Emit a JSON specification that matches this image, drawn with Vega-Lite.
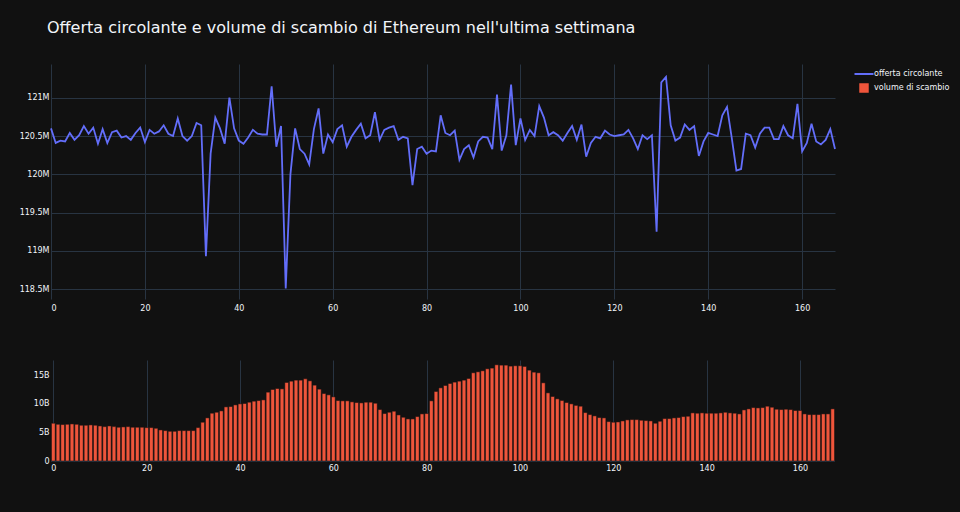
{
  "$schema": "https://vega.github.io/schema/vega-lite/v6.json",
  "background": "#111111",
  "padding": {"left": 19, "top": 20, "right": 5, "bottom": 45},
  "bounds": "flush",
  "title": {"text": "Offerta circolante e volume di scambio di Ethereum nell'ultima settimana", "anchor": "start", "frame": "group", "fontSize": 16, "font": "DejaVu Sans", "fontWeight": "normal", "color": "#f2f5fa", "offset": 28, "dx": -4},
  "data": {"values": [
{"ora":0,"offerta":120600000,"volume":6.62},{"ora":1,"offerta":120410000,"volume":6.44},{"ora":2,"offerta":120440000,"volume":6.39},{"ora":3,"offerta":120430000,"volume":6.44},{"ora":4,"offerta":120540000,"volume":6.50},{"ora":5,"offerta":120450000,"volume":6.44},{"ora":6,"offerta":120510000,"volume":6.27},{"ora":7,"offerta":120630000,"volume":6.27},{"ora":8,"offerta":120530000,"volume":6.33},{"ora":9,"offerta":120610000,"volume":6.27},
{"ora":10,"offerta":120400000,"volume":6.15},{"ora":11,"offerta":120590000,"volume":6.03},{"ora":12,"offerta":120410000,"volume":6.15},{"ora":13,"offerta":120550000,"volume":6.03},{"ora":14,"offerta":120570000,"volume":5.92},{"ora":15,"offerta":120480000,"volume":5.98},{"ora":16,"offerta":120500000,"volume":6.03},{"ora":17,"offerta":120450000,"volume":5.92},{"ora":18,"offerta":120540000,"volume":5.92},{"ora":19,"offerta":120610000,"volume":5.92},
{"ora":20,"offerta":120420000,"volume":5.86},{"ora":21,"offerta":120580000,"volume":5.86},{"ora":22,"offerta":120530000,"volume":5.74},{"ora":23,"offerta":120560000,"volume":5.45},{"ora":24,"offerta":120640000,"volume":5.33},{"ora":25,"offerta":120530000,"volume":5.21},{"ora":26,"offerta":120500000,"volume":5.21},{"ora":27,"offerta":120730000,"volume":5.33},{"ora":28,"offerta":120500000,"volume":5.33},{"ora":29,"offerta":120440000,"volume":5.33},
{"ora":30,"offerta":120500000,"volume":5.33},{"ora":31,"offerta":120670000,"volume":5.86},{"ora":32,"offerta":120640000,"volume":6.80},{"ora":33,"offerta":118930000,"volume":7.56},{"ora":34,"offerta":120270000,"volume":8.38},{"ora":35,"offerta":120740000,"volume":8.55},{"ora":36,"offerta":120600000,"volume":8.79},{"ora":37,"offerta":120400000,"volume":9.49},{"ora":38,"offerta":121000000,"volume":9.55},{"ora":39,"offerta":120600000,"volume":9.84},
{"ora":40,"offerta":120440000,"volume":10.02},{"ora":41,"offerta":120400000,"volume":10.08},{"ora":42,"offerta":120480000,"volume":10.31},{"ora":43,"offerta":120580000,"volume":10.49},{"ora":44,"offerta":120530000,"volume":10.60},{"ora":45,"offerta":120520000,"volume":10.72},{"ora":46,"offerta":120520000,"volume":12.07},{"ora":47,"offerta":121150000,"volume":12.54},{"ora":48,"offerta":120360000,"volume":12.71},{"ora":49,"offerta":120630000,"volume":12.65},
{"ora":50,"offerta":118510000,"volume":13.77},{"ora":51,"offerta":120000000,"volume":14.00},{"ora":52,"offerta":120600000,"volume":14.18},{"ora":53,"offerta":120330000,"volume":14.18},{"ora":54,"offerta":120270000,"volume":14.41},{"ora":55,"offerta":120130000,"volume":14.06},{"ora":56,"offerta":120590000,"volume":13.30},{"ora":57,"offerta":120860000,"volume":12.60},{"ora":58,"offerta":120270000,"volume":11.83},{"ora":59,"offerta":120520000,"volume":11.60},
{"ora":60,"offerta":120420000,"volume":11.25},{"ora":61,"offerta":120590000,"volume":10.60},{"ora":62,"offerta":120640000,"volume":10.55},{"ora":63,"offerta":120360000,"volume":10.55},{"ora":64,"offerta":120490000,"volume":10.37},{"ora":65,"offerta":120580000,"volume":10.25},{"ora":66,"offerta":120660000,"volume":10.19},{"ora":67,"offerta":120470000,"volume":10.31},{"ora":68,"offerta":120510000,"volume":10.31},{"ora":69,"offerta":120810000,"volume":10.13},
{"ora":70,"offerta":120450000,"volume":9.02},{"ora":71,"offerta":120580000,"volume":8.32},{"ora":72,"offerta":120610000,"volume":8.55},{"ora":73,"offerta":120630000,"volume":8.73},{"ora":74,"offerta":120450000,"volume":8.08},{"ora":75,"offerta":120490000,"volume":7.67},{"ora":76,"offerta":120470000,"volume":7.38},{"ora":77,"offerta":119860000,"volume":7.38},{"ora":78,"offerta":120330000,"volume":7.79},{"ora":79,"offerta":120360000,"volume":8.26},
{"ora":80,"offerta":120270000,"volume":8.32},{"ora":81,"offerta":120310000,"volume":10.55},{"ora":82,"offerta":120300000,"volume":12.19},{"ora":83,"offerta":120770000,"volume":12.83},{"ora":84,"offerta":120540000,"volume":13.24},{"ora":85,"offerta":120510000,"volume":13.59},{"ora":86,"offerta":120570000,"volume":13.83},{"ora":87,"offerta":120190000,"volume":14.00},{"ora":88,"offerta":120330000,"volume":14.18},{"ora":89,"offerta":120380000,"volume":14.47},
{"ora":90,"offerta":120220000,"volume":15.47},{"ora":91,"offerta":120430000,"volume":15.64},{"ora":92,"offerta":120490000,"volume":15.82},{"ora":93,"offerta":120480000,"volume":16.17},{"ora":94,"offerta":120330000,"volume":16.29},{"ora":95,"offerta":121040000,"volume":16.87},{"ora":96,"offerta":120310000,"volume":16.81},{"ora":97,"offerta":120510000,"volume":16.81},{"ora":98,"offerta":121170000,"volume":16.64},{"ora":99,"offerta":120380000,"volume":16.70},
{"ora":100,"offerta":120730000,"volume":16.70},{"ora":101,"offerta":120450000,"volume":16.58},{"ora":102,"offerta":120580000,"volume":15.93},{"ora":103,"offerta":120500000,"volume":15.58},{"ora":104,"offerta":120890000,"volume":15.47},{"ora":105,"offerta":120740000,"volume":13.71},{"ora":106,"offerta":120510000,"volume":11.95},{"ora":107,"offerta":120550000,"volume":11.31},{"ora":108,"offerta":120510000,"volume":10.90},{"ora":109,"offerta":120440000,"volume":10.60},
{"ora":110,"offerta":120540000,"volume":10.25},{"ora":111,"offerta":120630000,"volume":10.02},{"ora":112,"offerta":120450000,"volume":9.75},{"ora":113,"offerta":120650000,"volume":9.61},{"ora":114,"offerta":120230000,"volume":8.49},{"ora":115,"offerta":120410000,"volume":8.14},{"ora":116,"offerta":120490000,"volume":7.91},{"ora":117,"offerta":120470000,"volume":7.62},{"ora":118,"offerta":120570000,"volume":7.56},{"ora":119,"offerta":120520000,"volume":6.91},
{"ora":120,"offerta":120500000,"volume":6.80},{"ora":121,"offerta":120510000,"volume":6.85},{"ora":122,"offerta":120520000,"volume":7.03},{"ora":123,"offerta":120580000,"volume":7.21},{"ora":124,"offerta":120470000,"volume":7.26},{"ora":125,"offerta":120330000,"volume":7.26},{"ora":126,"offerta":120510000,"volume":7.15},{"ora":127,"offerta":120460000,"volume":7.09},{"ora":128,"offerta":120510000,"volume":7.03},{"ora":129,"offerta":119250000,"volume":6.62},
{"ora":130,"offerta":121200000,"volume":6.97},{"ora":131,"offerta":121270000,"volume":7.44},{"ora":132,"offerta":120640000,"volume":7.44},{"ora":133,"offerta":120440000,"volume":7.56},{"ora":134,"offerta":120480000,"volume":7.62},{"ora":135,"offerta":120650000,"volume":7.79},{"ora":136,"offerta":120580000,"volume":7.85},{"ora":137,"offerta":120630000,"volume":8.44},{"ora":138,"offerta":120240000,"volume":8.38},{"ora":139,"offerta":120430000,"volume":8.44},
{"ora":140,"offerta":120540000,"volume":8.38},{"ora":141,"offerta":120520000,"volume":8.38},{"ora":142,"offerta":120500000,"volume":8.38},{"ora":143,"offerta":120770000,"volume":8.44},{"ora":144,"offerta":120880000,"volume":8.55},{"ora":145,"offerta":120480000,"volume":8.44},{"ora":146,"offerta":120050000,"volume":8.38},{"ora":147,"offerta":120070000,"volume":8.26},{"ora":148,"offerta":120530000,"volume":8.96},{"ora":149,"offerta":120510000,"volume":9.14},
{"ora":150,"offerta":120350000,"volume":9.37},{"ora":151,"offerta":120530000,"volume":9.31},{"ora":152,"offerta":120610000,"volume":9.37},{"ora":153,"offerta":120610000,"volume":9.61},{"ora":154,"offerta":120460000,"volume":9.43},{"ora":155,"offerta":120460000,"volume":9.08},{"ora":156,"offerta":120630000,"volume":9.02},{"ora":157,"offerta":120510000,"volume":9.08},{"ora":158,"offerta":120470000,"volume":9.02},{"ora":159,"offerta":120920000,"volume":8.85},
{"ora":160,"offerta":120300000,"volume":8.85},{"ora":161,"offerta":120410000,"volume":8.26},{"ora":162,"offerta":120660000,"volume":8.14},{"ora":163,"offerta":120430000,"volume":8.14},{"ora":164,"offerta":120390000,"volume":8.14},{"ora":165,"offerta":120450000,"volume":8.26},{"ora":166,"offerta":120590000,"volume":8.26},{"ora":167,"offerta":120330000,"volume":9.14}
  ]},
  "spacing": 61,
  "vconcat": [
    {
      "width": 784,
      "height": 235,
      "mark": {"type": "line", "strokeWidth": 1.8},
      "encoding": {
        "x": {"field": "ora", "type": "quantitative", "scale": {"domain": [0, 167], "nice": false, "zero": false},
              "axis": {"title": null, "values": [0, 20, 40, 60, 80, 100, 120, 140, 160], "labelPadding": 5}},
        "y": {"field": "offerta", "type": "quantitative", "scale": {"domain": [118373000, 121440000], "nice": false, "zero": false},
              "axis": {"title": null, "values": [118500000, 119000000, 119500000, 120000000, 120500000, 121000000], "format": "~s"}},
        "color": {"datum": "offerta circolante", "type": "nominal",
                  "scale": {"domain": ["offerta circolante", "volume di scambio"], "range": ["#636efa", "#EF553B"]},
                  "legend": {"title": null, "orient": "right", "offset": 15,
                    "encode": {"symbols": {"update": {
                      "shape": {"signal": "datum.value === 'offerta circolante' ? 'stroke' : 'square'"},
                      "size": {"signal": "datum.value === 'offerta circolante' ? 361 : 56"},
                      "fill": {"signal": "datum.value === 'offerta circolante' ? 'transparent' : '#EF553B'"},
                      "stroke": {"signal": "datum.value === 'offerta circolante' ? '#636efa' : 'transparent'"},
                      "strokeWidth": {"value": 2},
                      "opacity": {"value": 1}
                    }}}}}
      }
    },
    {
      "width": 784,
      "height": 101,
      "layer": [
        {
          "mark": {"type": "rule", "color": "#283442", "strokeWidth": 1},
          "encoding": {
            "y": {"datum": 0, "type": "quantitative",
                  "axis": {"title": null, "values": [0], "format": "~g", "orient": "left", "grid": false, "offset": 0}}
          }
        },
        {
          "mark": {"type": "bar", "width": 3.7, "stroke": "#111111", "strokeWidth": 0.5},
          "encoding": {
            "x": {"field": "ora", "type": "quantitative", "scale": {"domain": [-0.5, 167.5], "nice": false, "zero": false, "padding": 0},
                  "axis": {"title": null, "values": [0, 20, 40, 60, 80, 100, 120, 140, 160], "labelPadding": 3}},
            "y": {"field": "volume", "type": "quantitative", "scale": {"domain": [0, 17.71], "nice": false},
                  "axis": {"title": null, "values": [5, 10, 15], "format": "$~g", "orient": "left"}},
            "color": {"datum": "volume di scambio", "type": "nominal"}
          }
        }
      ],
      "resolve": {"axis": {"y": "independent"}}
    }
  ],
  "config": {
    "locale": {"number": {"decimal": ".", "thousands": ",", "grouping": [3], "currency": ["", "B"]}},
    "view": {"stroke": null},
    "font": "DejaVu Sans",
    "axis": {"domain": false, "ticks": false, "gridColor": "#283442", "gridWidth": 1, "gridOpacity": 1,
             "labelColor": "#f2f5fa", "labelFont": "DejaVu Sans", "labelFontSize": 8, "labelPadding": 2},
    "axisY": {"labelPadding": 2},
    "legend": {"labelColor": "#f2f5fa", "labelFont": "DejaVu Sans", "labelFontSize": 8, "labelOffset": 5, "rowPadding": 2, "symbolStrokeWidth": 2, "padding": 5}
  }
}
